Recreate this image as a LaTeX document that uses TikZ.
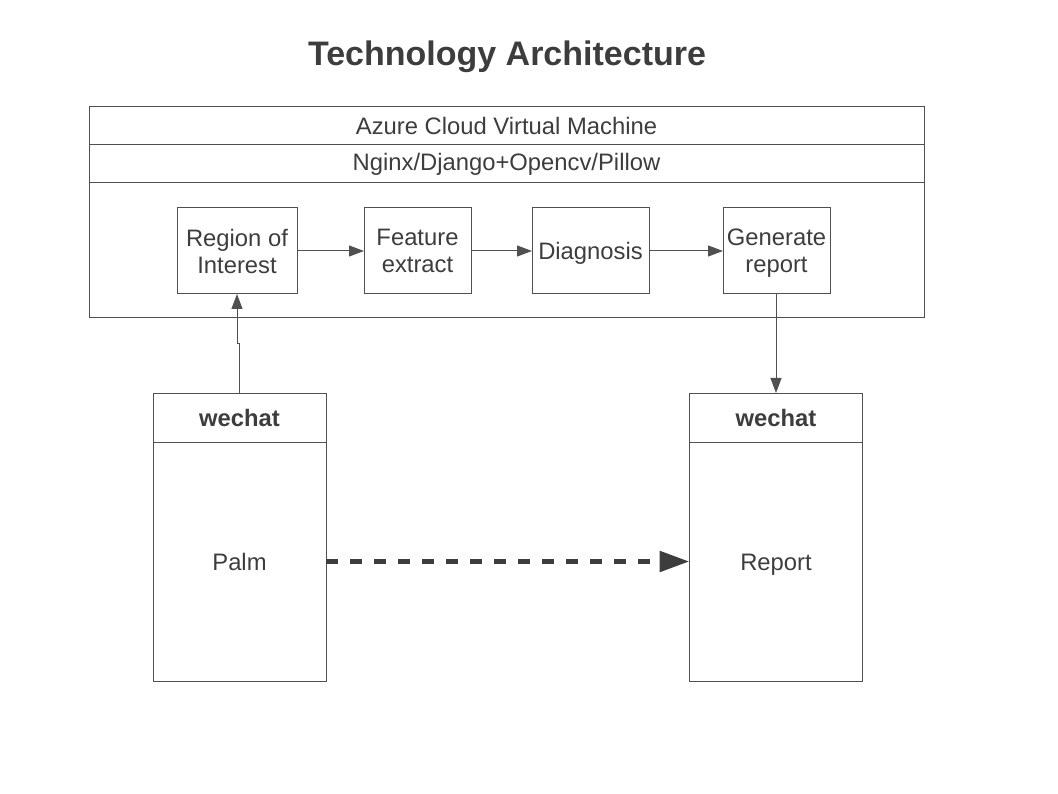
\documentclass[tikz,border=0pt]{standalone}
\usepackage{fontspec}
\setmainfont{Liberation Sans}
\usetikzlibrary{arrows.meta,positioning}
\definecolor{ink}{HTML}{3d3d3d}
\definecolor{edge}{HTML}{505050}

\begin{document}
\begin{tikzpicture}[x=1pt,y=-1pt,
	every node/.style={text=ink,font=\fontsize{23.8}{27}\selectfont},
	row/.style={draw=edge,line width=1pt,minimum width=835pt,inner sep=0pt,outer sep=0pt},
	stepbox/.style={draw=edge,line width=1pt,minimum height=86pt,inner sep=0pt,outer sep=0pt,align=center,text depth=0pt},
	phonehead/.style={draw=edge,line width=1pt,minimum width=173pt,minimum height=49pt,inner sep=0pt,outer sep=0pt,font=\fontsize{23.8}{27}\selectfont\bfseries},
	phonebody/.style={draw=edge,line width=1pt,minimum width=173pt,minimum height=239pt,inner sep=0pt,outer sep=0pt,text height=17.3pt,text depth=0pt},
	arr/.style={draw=edge,line width=1pt,-{Triangle[length=15pt,width=11pt]}},
	bigdash/.style={draw=ink,line width=5.5pt,dash pattern=on 12pt off 12pt,-{Triangle[length=30pt,width=20pt]}}]
	\useasboundingbox (0,0) rectangle (1058,794);
	
	% title
	\node[font=\fontsize{34}{40}\selectfont\bfseries] (title) at (507,57) {Technology Architecture};
	
	% cloud machine
	\node[row,minimum height=38pt] (azure) at (506.5,126) {Azure Cloud Virtual Machine};
	\node[row,minimum height=38pt,below=0pt of azure] (stack) {Nginx/Django+Opencv/Pillow};
	\node[row,minimum height=135pt,below=0pt of stack] (vm) {};
	
	% processing steps
	\node[stepbox,minimum width=120pt] (roi) at (237,251) {Region of\\Interest};
	\node[stepbox,minimum width=107pt,right=67pt of roi] (feat) {Feature\\extract};
	\node[stepbox,minimum width=117pt,right=61pt of feat] (diag) {Diagnosis};
	\node[stepbox,minimum width=107pt,right=74pt of diag] (gen) {Generate\\report};
	
	\draw[arr] (roi) -- (feat);
	\draw[arr] (feat) -- (diag);
	\draw[arr] (diag) -- (gen);
	
	% wechat palm
	\node[phonehead] (palmhead) at (239.5,417.5) {wechat};
	\node[phonebody,below=0pt of palmhead] (palm) {Palm};
	
	% wechat report
	\node[phonehead] (rephead) at (776,417.5) {wechat};
	\node[phonebody,below=0pt of rephead] (report) {Report};
	
	\draw[arr] (palmhead.north) -- ++(0,-49) -| (roi.south);
	\draw[arr] (gen.south) -- ++(0,50) -| (rephead.north);
	\draw[bigdash] (palm.east) -- (report.west);
	
\end{tikzpicture}
\end{document}
